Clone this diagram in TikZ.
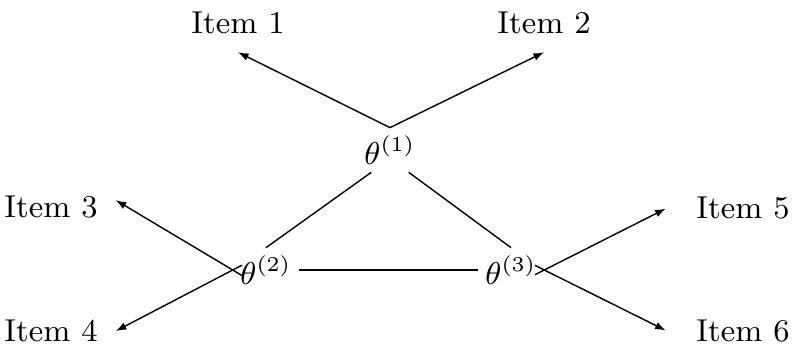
\documentclass[tikz,border=0pt]{standalone}
\usepackage{amsmath,amssymb}
\usepackage{tikz}
\usetikzlibrary{arrows.meta,positioning}

\begin{document}
\begin{tikzpicture}[
    item/.style={inner sep=5pt, font=\small},
    param/.style={inner sep=2pt, font=\small},
    arrow/.style={-{Latex[length=3pt,width=2.2pt]}, thin},
    link/.style={thin}
]
    \useasboundingbox (0,0) rectangle (7.94,3.49);

    % Parameters
    \node[param] (t1) at (3.90,1.99) {$\theta^{(1)}$};
    \node[param] (t2) at (2.66,0.79) {$\theta^{(2)}$};
    \node[param] (t3) at (5.11,0.79) {$\theta^{(3)}$};

    % Items
    \node[item] (i1) at (2.38,3.26) {Item 1};
    \node[item] (i2) at (5.44,3.26) {Item 2};
    \node[item] (i3) at (0.51,1.42) {Item 3};
    \node[item] (i4) at (0.51,0.18) {Item 4};
    \node[item] (i5) at (7.43,1.41) {Item 5};
    \node[item] (i6) at (7.43,0.18) {Item 6};

    % Links between parameters
    \draw[link] (t1.230) -- (t2.north);
    \draw[link] (t1.310) -- (t3.north);
    \draw[link] (t2.east) -- (t3.west);

    % Arrows to items
    \draw[arrow] (t1.north) -- (i1.south);
    \draw[arrow] (t1.north) -- (i2.south);
    \draw[arrow, shorten <=-3pt] (t2.west) -- (i3.6);
    \draw[arrow, shorten <=-3pt] (t2.west) -- (i4.east);
    \draw[arrow, shorten <=-3pt, shorten >=4pt] (t3.east) -- (i5.175);
    \draw[arrow, shorten <=-3pt, shorten >=4pt] (t3.east) -- (i6.185);
\end{tikzpicture}
\end{document}
